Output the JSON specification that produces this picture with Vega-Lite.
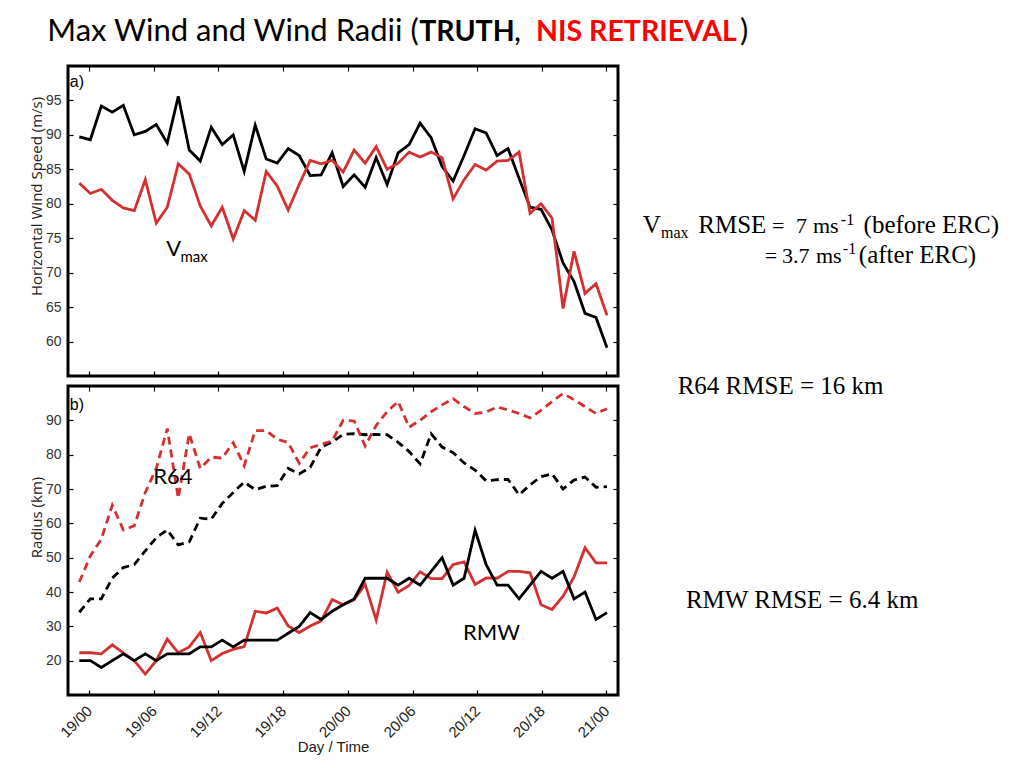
{
  "$schema": "https://vega.github.io/schema/vega-lite/v6.json",
  "background": "white",
  "padding": {"left": 27, "top": 14, "right": 5, "bottom": 5},
  "spacing": 10,
  "bounds": "flush",
  "config": {
    "view": {"stroke": "#000", "strokeWidth": 3},
    "axis": {"grid": false, "domain": false, "tickColor": "#000", "tickWidth": 1.2, "tickSize": -5, "labelFont": "Liberation Sans", "labelFontSize": 14, "labelColor": "#333", "labelPadding": 12, "titleFont": "Open Sans", "titleFontWeight": "normal", "titleFontSize": 15, "titleColor": "#222", "labelFlush": false, "labelOverlap": false}
  },
  "datasets": {
    "d": [
      {"h":0,"vt":89.7,"vn":83.0,"rt":34.1,"rn":42.9,"mt":20,"mn":22.3},
      {"h":1,"vt":89.3,"vn":81.5,"rt":38.0,"rn":50.5,"mt":20,"mn":22.3},
      {"h":2,"vt":94.2,"vn":82.1,"rt":38.0,"rn":55.4,"mt":18,"mn":22.0},
      {"h":3,"vt":93.3,"vn":80.5,"rt":44.1,"rn":65.3,"mt":20,"mn":24.6},
      {"h":4,"vt":94.3,"vn":79.4,"rt":47.1,"rn":58.1,"mt":22,"mn":22.3},
      {"h":5,"vt":90.0,"vn":79.0,"rt":48.0,"rn":59.3,"mt":20,"mn":20.0},
      {"h":6,"vt":90.5,"vn":83.5,"rt":52.0,"rn":69.0,"mt":22,"mn":16.1},
      {"h":7,"vt":91.5,"vn":77.2,"rt":55.8,"rn":76.0,"mt":20,"mn":20.0},
      {"h":8,"vt":88.8,"vn":79.5,"rt":58.1,"rn":87.6,"mt":22,"mn":26.3},
      {"h":9,"vt":95.6,"vn":85.8,"rt":53.7,"rn":67.3,"mt":22,"mn":22.3},
      {"h":10,"vt":87.8,"vn":84.3,"rt":54.6,"rn":86.1,"mt":22,"mn":24.0},
      {"h":11,"vt":86.2,"vn":79.7,"rt":61.5,"rn":76.0,"mt":24,"mn":28.2},
      {"h":12,"vt":91.1,"vn":76.8,"rt":61.2,"rn":79.3,"mt":24,"mn":20.0},
      {"h":13,"vt":88.6,"vn":79.5,"rt":65.8,"rn":79.0,"mt":26,"mn":22.1},
      {"h":14,"vt":90.0,"vn":74.9,"rt":69.0,"rn":83.5,"mt":24,"mn":23.3},
      {"h":15,"vt":84.7,"vn":79.0,"rt":72.0,"rn":76.8,"mt":26,"mn":24.1},
      {"h":16,"vt":91.4,"vn":77.6,"rt":69.8,"rn":87.0,"mt":26,"mn":34.4},
      {"h":17,"vt":86.5,"vn":84.7,"rt":70.8,"rn":87.0,"mt":26,"mn":33.9},
      {"h":18,"vt":85.9,"vn":82.6,"rt":71.0,"rn":84.5,"mt":26,"mn":35.3},
      {"h":19,"vt":88.0,"vn":79.1,"rt":76.0,"rn":83.5,"mt":28,"mn":30.1},
      {"h":20,"vt":87.0,"vn":82.8,"rt":74.4,"rn":77.5,"mt":30,"mn":28.2},
      {"h":21,"vt":84.1,"vn":86.3,"rt":76.3,"rn":82.0,"mt":34,"mn":30.1},
      {"h":22,"vt":84.2,"vn":85.8,"rt":82.2,"rn":83.0,"mt":32,"mn":31.6},
      {"h":23,"vt":87.4,"vn":86.3,"rt":83.7,"rn":84.0,"mt":34.4,"mn":37.8},
      {"h":24,"vt":82.5,"vn":84.6,"rt":85.9,"rn":90.0,"mt":36.3,"mn":36.3},
      {"h":25,"vt":84.2,"vn":87.8,"rt":86.1,"rn":89.8,"mt":38,"mn":37.8},
      {"h":26,"vt":82.4,"vn":85.9,"rt":85.8,"rn":82.5,"mt":44,"mn":42.2},
      {"h":27,"vt":86.7,"vn":88.3,"rt":85.9,"rn":88.5,"mt":44,"mn":31.9},
      {"h":28,"vt":82.8,"vn":85.0,"rt":85.8,"rn":92.5,"mt":44,"mn":45.8},
      {"h":29,"vt":87.4,"vn":85.9,"rt":83.6,"rn":95.5,"mt":42,"mn":39.9},
      {"h":30,"vt":88.6,"vn":87.5,"rt":80.9,"rn":88.0,"mt":44,"mn":41.9},
      {"h":31,"vt":91.7,"vn":86.8,"rt":77.3,"rn":90.0,"mt":42,"mn":45.9},
      {"h":32,"vt":89.6,"vn":87.5,"rt":86.1,"rn":92.5,"mt":46,"mn":43.9},
      {"h":33,"vt":85.4,"vn":86.7,"rt":82.2,"rn":94.5,"mt":50,"mn":43.9},
      {"h":34,"vt":83.3,"vn":80.7,"rt":80.6,"rn":96.3,"mt":42,"mn":48.0},
      {"h":35,"vt":87.0,"vn":83.5,"rt":77.6,"rn":94.0,"mt":44,"mn":48.8},
      {"h":36,"vt":90.9,"vn":85.7,"rt":75.5,"rn":92.0,"mt":58,"mn":42.2},
      {"h":37,"vt":90.3,"vn":84.9,"rt":72.4,"rn":92.4,"mt":48,"mn":44.1},
      {"h":38,"vt":87.0,"vn":86.2,"rt":72.7,"rn":93.9,"mt":42,"mn":44.0},
      {"h":39,"vt":88.0,"vn":86.3,"rt":72.8,"rn":93.0,"mt":42,"mn":46.0},
      {"h":40,"vt":83.7,"vn":87.5,"rt":68.3,"rn":92.0,"mt":38,"mn":46.0},
      {"h":41,"vt":79.5,"vn":78.6,"rt":71.2,"rn":90.7,"mt":42,"mn":45.6},
      {"h":42,"vt":79.2,"vn":80.0,"rt":73.6,"rn":92.9,"mt":46,"mn":36.3},
      {"h":43,"vt":76.2,"vn":77.9,"rt":74.4,"rn":95.5,"mt":44,"mn":34.9},
      {"h":44,"vt":71.4,"vn":64.8,"rt":70.0,"rn":97.8,"mt":46,"mn":38.8},
      {"h":45,"vt":68.7,"vn":73.1,"rt":72.6,"rn":96.0,"mt":38,"mn":44.4},
      {"h":46,"vt":64.1,"vn":67.0,"rt":73.5,"rn":94.0,"mt":40,"mn":52.9},
      {"h":47,"vt":63.5,"vn":68.4,"rt":70.5,"rn":92.0,"mt":32,"mn":48.5},
      {"h":48,"vt":59.1,"vn":63.8,"rt":70.7,"rn":93.4,"mt":34,"mn":48.5}
    ]
  },
  "vconcat": [
    {
      "width": 550,
      "height": 310,
      "resolve": {"axis": {"x": "independent", "y": "independent"}},
      "layer": [
        {
          "data": {"name": "d"},
          "mark": {"type": "line", "color": "#000", "strokeWidth": 2.8},
          "encoding": {
            "x": {"field": "h", "type": "quantitative", "scale": {"domain": [-1.03, 49]}, "axis": {"orient": "bottom", "values": [0.9, 6.78, 12.66, 18.54, 24.42, 30.31, 36.19, 42.07, 47.95], "labels": false, "title": null}},
            "y": {"field": "vt", "type": "quantitative", "scale": {"domain": [55, 100]}, "axis": {"orient": "left", "values": [60, 65, 70, 75, 80, 85, 90, 95], "title": "Horizontal Wind Speed (m/s)", "titleX": -32, "titleY": 130, "titleAngle": 270, "titleAlign": "center", "titleBaseline": "middle"}}
          }
        },
        {
          "data": {"name": "d"},
          "mark": {"type": "line", "color": "#d43030", "strokeWidth": 2.8},
          "encoding": {
            "x": {"field": "h", "type": "quantitative", "scale": {"domain": [-1.03, 49]}, "axis": {"orient": "top", "values": [0.9, 6.78, 12.66, 18.54, 24.42, 30.31, 36.19, 42.07, 47.95], "labels": false, "title": null}},
            "y": {"field": "vn", "type": "quantitative", "scale": {"domain": [55, 100]}, "axis": {"orient": "right", "values": [60, 65, 70, 75, 80, 85, 90, 95], "labels": false, "title": null}}
          }
        },
        {
          "data": {"values": [{"x": -0.86, "y": 97.0, "t": "a)"}]},
          "mark": {"type": "text", "font": "Liberation Sans", "fontSize": 16, "align": "left", "baseline": "alphabetic", "color": "#000"},
          "encoding": {
            "x": {"field": "x", "type": "quantitative", "scale": {"domain": [-1.03, 49]}, "axis": null},
            "y": {"field": "y", "type": "quantitative", "scale": {"domain": [55, 100]}, "axis": null},
            "text": {"field": "t"}
          }
        },
        {
          "data": {"values": [{"x": 7.9, "y": 72.4, "t": "V"}]},
          "mark": {"type": "text", "font": "Lato", "fontSize": 22, "align": "left", "baseline": "alphabetic", "color": "#000"},
          "encoding": {
            "x": {"field": "x", "type": "quantitative", "scale": {"domain": [-1.03, 49]}, "axis": null},
            "y": {"field": "y", "type": "quantitative", "scale": {"domain": [55, 100]}, "axis": null},
            "text": {"field": "t"}
          }
        },
        {
          "data": {"values": [{"x": 9.2, "y": 71.6, "t": "max"}]},
          "mark": {"type": "text", "font": "Lato", "fontSize": 15, "align": "left", "baseline": "alphabetic", "color": "#000"},
          "encoding": {
            "x": {"field": "x", "type": "quantitative", "scale": {"domain": [-1.03, 49]}, "axis": null},
            "y": {"field": "y", "type": "quantitative", "scale": {"domain": [55, 100]}, "axis": null},
            "text": {"field": "t"}
          }
        },
        {
          "data": {"values": [{"x": -2.91, "y": 103.6, "t": "Max Wind and Wind Radii ("}, {"x": 39.55, "y": 103.6, "t": ","}, {"x": 60.09, "y": 103.6, "t": ")"}]},
          "mark": {"type": "text", "font": "Lato", "fontSize": 31, "align": "left", "baseline": "alphabetic", "color": "#000"},
          "encoding": {
            "x": {"field": "x", "type": "quantitative", "scale": {"domain": [-1.03, 49]}, "axis": null},
            "y": {"field": "y", "type": "quantitative", "scale": {"domain": [55, 100]}, "axis": null},
            "text": {"field": "t"}
          }
        },
        {
          "data": {"values": [{"x": 30.91, "y": 103.6, "t": "TRUTH"}]},
          "mark": {"type": "text", "font": "Lato", "fontSize": 28.5, "fontWeight": "bold", "align": "left", "baseline": "alphabetic", "color": "#000"},
          "encoding": {
            "x": {"field": "x", "type": "quantitative", "scale": {"domain": [-1.03, 49]}, "axis": null},
            "y": {"field": "y", "type": "quantitative", "scale": {"domain": [55, 100]}, "axis": null},
            "text": {"field": "t"}
          }
        },
        {
          "data": {"values": [{"x": 41.55, "y": 103.6, "t": "NIS RETRIEVAL"}]},
          "mark": {"type": "text", "font": "Lato", "fontSize": 28.5, "fontWeight": "bold", "align": "left", "baseline": "alphabetic", "color": "#ff0000"},
          "encoding": {
            "x": {"field": "x", "type": "quantitative", "scale": {"domain": [-1.03, 49]}, "axis": null},
            "y": {"field": "y", "type": "quantitative", "scale": {"domain": [55, 100]}, "axis": null},
            "text": {"field": "t"}
          }
        },
        {
          "data": {"values": [
            {"x": 51.25, "y": 75.69, "t": "V"},
            {"x": 56.3, "y": 75.69, "t": "RMSE"},
            {"x": 71.34, "y": 75.69, "t": "(before ERC)"},
            {"x": 70.91, "y": 71.43, "t": "(after ERC)"}
          ]},
          "mark": {"type": "text", "font": "Liberation Serif", "fontSize": 25, "align": "left", "baseline": "alphabetic", "color": "#000"},
          "encoding": {
            "x": {"field": "x", "type": "quantitative", "scale": {"domain": [-1.03, 49]}, "axis": null},
            "y": {"field": "y", "type": "quantitative", "scale": {"domain": [55, 100]}, "axis": null},
            "text": {"field": "t"}
          }
        },
        {
          "data": {"values": [
            {"x": 63.0, "y": 75.69, "t": "="},
            {"x": 65.2, "y": 75.69, "t": "7"},
            {"x": 66.73, "y": 75.69, "t": "ms"},
            {"x": 62.36, "y": 71.43, "t": "="},
            {"x": 63.91, "y": 71.43, "t": "3.7"},
            {"x": 67.0, "y": 71.43, "t": "ms"}
          ]},
          "mark": {"type": "text", "font": "Liberation Serif", "fontSize": 22, "align": "left", "baseline": "alphabetic", "color": "#000"},
          "encoding": {
            "x": {"field": "x", "type": "quantitative", "scale": {"domain": [-1.03, 49]}, "axis": null},
            "y": {"field": "y", "type": "quantitative", "scale": {"domain": [55, 100]}, "axis": null},
            "text": {"field": "t"}
          }
        },
        {
          "data": {"values": [{"x": 52.91, "y": 74.96, "t": "max"}, {"x": 69.27, "y": 76.99, "t": "-1"}, {"x": 69.45, "y": 72.71, "t": "-1"}]},
          "mark": {"type": "text", "font": "Liberation Serif", "fontSize": 16, "align": "left", "baseline": "alphabetic", "color": "#000"},
          "encoding": {
            "x": {"field": "x", "type": "quantitative", "scale": {"domain": [-1.03, 49]}, "axis": null},
            "y": {"field": "y", "type": "quantitative", "scale": {"domain": [55, 100]}, "axis": null},
            "text": {"field": "t"}
          }
        }
      ]
    },
    {
      "width": 550,
      "height": 309,
      "resolve": {"axis": {"x": "independent", "y": "independent"}},
      "layer": [
        {
          "data": {"name": "d"},
          "mark": {"type": "line", "color": "#000", "strokeWidth": 2.8, "strokeDash": [8, 5]},
          "encoding": {
            "x": {"field": "h", "type": "quantitative", "scale": {"domain": [-1.03, 49]}, "axis": {"orient": "bottom", "values": [0.9, 6.78, 12.66, 18.54, 24.42, 30.31, 36.19, 42.07, 47.95], "labelExpr": "['19/00','19/06','19/12','19/18','20/00','20/06','20/12','20/18','21/00'][round((datum.value-0.9)/5.881)]", "labelAngle": -45, "labelAlign": "right", "labelBaseline": "middle", "labelPadding": 18, "labelFont": "Liberation Sans", "labelFontSize": 15, "labelColor": "#222", "title": "Day / Time", "titleFont": "Liberation Sans", "titleFontSize": 15, "titleX": 265, "titleY": 56, "titleBaseline": "alphabetic", "titleAlign": "center"}},
            "y": {"field": "rt", "type": "quantitative", "scale": {"domain": [10, 100]}, "axis": {"orient": "left", "values": [20, 30, 40, 50, 60, 70, 80, 90], "title": "Radius (km)", "titleX": -32, "titleY": 131, "titleAngle": 270, "titleAlign": "center", "titleBaseline": "middle"}}
          }
        },
        {
          "data": {"name": "d"},
          "mark": {"type": "line", "color": "#d43030", "strokeWidth": 2.8, "strokeDash": [8, 5]},
          "encoding": {
            "x": {"field": "h", "type": "quantitative", "scale": {"domain": [-1.03, 49]}, "axis": {"orient": "top", "values": [0.9, 6.78, 12.66, 18.54, 24.42, 30.31, 36.19, 42.07, 47.95], "labels": false, "title": null}},
            "y": {"field": "rn", "type": "quantitative", "scale": {"domain": [10, 100]}, "axis": {"orient": "right", "values": [20, 30, 40, 50, 60, 70, 80, 90], "labels": false, "title": null}}
          }
        },
        {
          "data": {"name": "d"},
          "mark": {"type": "line", "color": "#d43030", "strokeWidth": 2.8},
          "encoding": {
            "x": {"field": "h", "type": "quantitative", "scale": {"domain": [-1.03, 49]}, "axis": null},
            "y": {"field": "mn", "type": "quantitative", "scale": {"domain": [10, 100]}, "axis": null}
          }
        },
        {
          "data": {"name": "d"},
          "mark": {"type": "line", "color": "#000", "strokeWidth": 2.8},
          "encoding": {
            "x": {"field": "h", "type": "quantitative", "scale": {"domain": [-1.03, 49]}, "axis": null},
            "y": {"field": "mt", "type": "quantitative", "scale": {"domain": [10, 100]}, "axis": null}
          }
        },
        {
          "data": {"values": [{"x": -0.86, "y": 92.9, "t": "b)"}]},
          "mark": {"type": "text", "font": "Liberation Sans", "fontSize": 16, "align": "left", "baseline": "alphabetic", "color": "#000"},
          "encoding": {
            "x": {"field": "x", "type": "quantitative", "scale": {"domain": [-1.03, 49]}, "axis": null},
            "y": {"field": "y", "type": "quantitative", "scale": {"domain": [10, 100]}, "axis": null},
            "text": {"field": "t"}
          }
        },
        {
          "data": {"values": [{"x": 6.73, "y": 71.4, "t": "R64"}, {"x": 34.9, "y": 26.0, "t": "RMW"}]},
          "mark": {"type": "text", "font": "Lato", "fontSize": 22, "align": "left", "baseline": "alphabetic", "color": "#000"},
          "encoding": {
            "x": {"field": "x", "type": "quantitative", "scale": {"domain": [-1.03, 49]}, "axis": null},
            "y": {"field": "y", "type": "quantitative", "scale": {"domain": [10, 100]}, "axis": null},
            "text": {"field": "t"}
          }
        },
        {
          "data": {"values": [{"x": 54.43, "y": 97.58, "t": "R64 RMSE = 16 km"}, {"x": 55.18, "y": 35.2, "t": "RMW RMSE = 6.4 km"}]},
          "mark": {"type": "text", "font": "Liberation Serif", "fontSize": 25, "align": "left", "baseline": "alphabetic", "color": "#000"},
          "encoding": {
            "x": {"field": "x", "type": "quantitative", "scale": {"domain": [-1.03, 49]}, "axis": null},
            "y": {"field": "y", "type": "quantitative", "scale": {"domain": [10, 100]}, "axis": null},
            "text": {"field": "t"}
          }
        }
      ]
    }
  ]
}
